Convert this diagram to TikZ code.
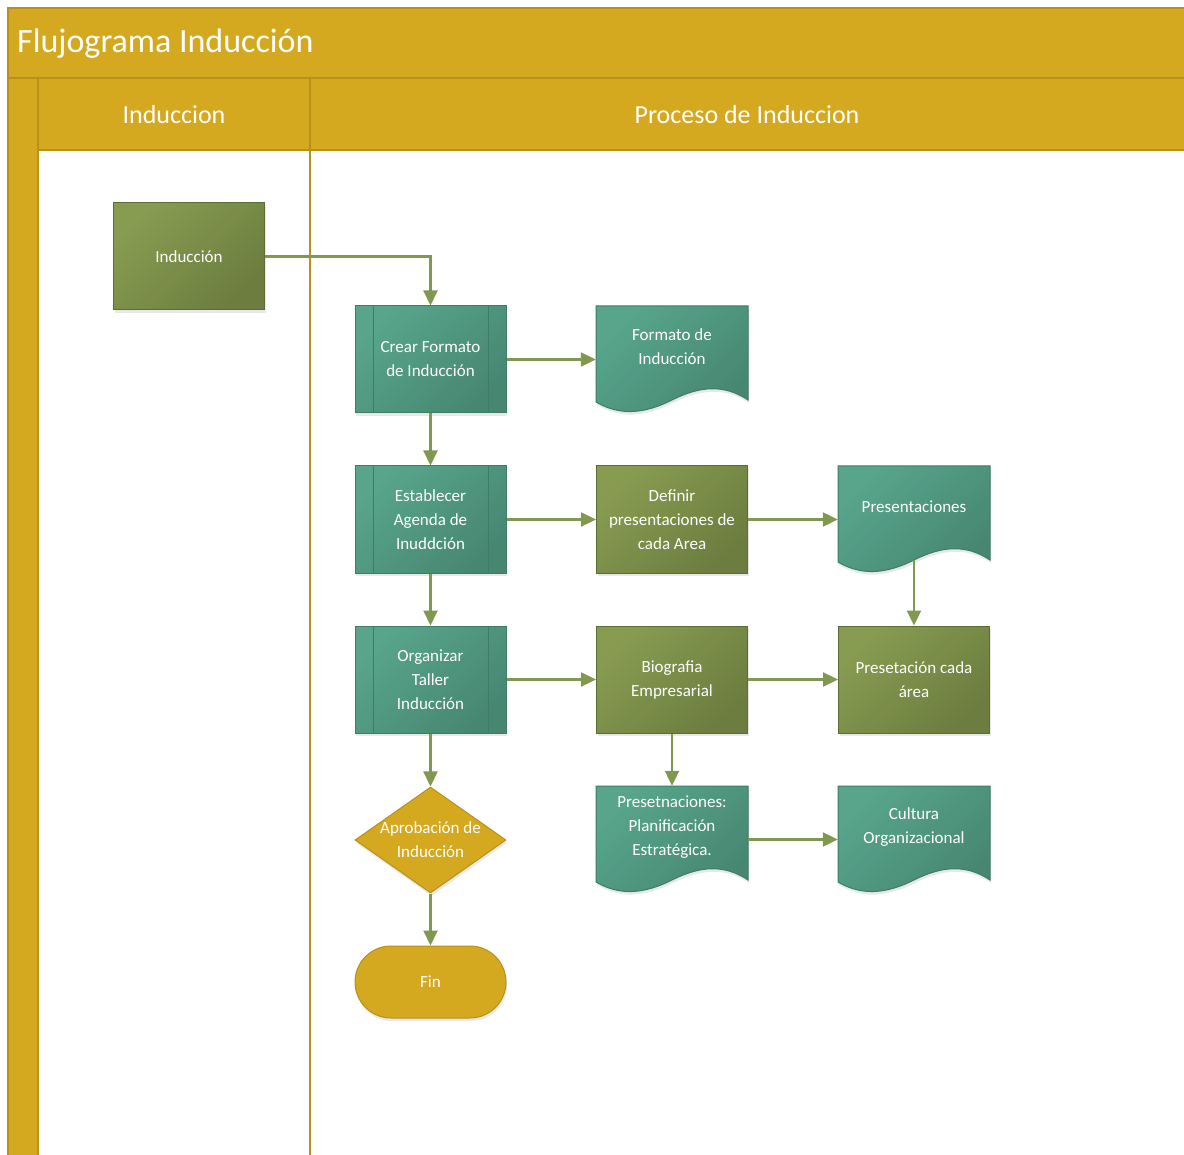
\documentclass[tikz,border=0pt]{standalone}
\usepackage{fontspec}
\setmainfont{Carlito}
\usetikzlibrary{arrows.meta,shapes.geometric,shadows}

\definecolor{gold}{HTML}{D4A91F}
\definecolor{goldline}{HTML}{B8911C}
\definecolor{tealA}{HTML}{58A58C}
\definecolor{tealB}{HTML}{478772}
\definecolor{tealline}{HTML}{3F7C68}
\definecolor{oliveA}{HTML}{879C51}
\definecolor{oliveB}{HTML}{6C7D3F}
\definecolor{oliveline}{HTML}{5D6C35}
\definecolor{flowc}{HTML}{809850}

\tikzset{
  softshadow/.style={drop shadow={opacity=0.18, shadow xshift=1pt, shadow yshift=-3pt}},
  nodetext/.style={text=white, align=center, inner sep=0pt,
    font=\fontsize{17}{24}\selectfont},
  box/.style={nodetext, minimum width=151pt, minimum height=107pt, line width=1pt, softshadow},
  procbox/.style={box, draw=tealline, top color=tealA, bottom color=tealB, shading angle=45,
    path picture={\draw[tealline, line width=1pt]
      ([xshift=18pt]path picture bounding box.north west) -- ([xshift=18pt]path picture bounding box.south west)
      ([xshift=-18pt]path picture bounding box.north east) -- ([xshift=-18pt]path picture bounding box.south east);}},
  taskbox/.style={box, draw=oliveline, top color=oliveA, bottom color=oliveB, shading angle=45},
  docshape/.style={draw=tealline, line width=1pt, top color=tealA, bottom color=tealB, shading angle=45, softshadow},
  docframe/.style={rectangle, minimum width=152pt, minimum height=107pt, inner sep=0pt},
  decision/.style={diamond, minimum width=151pt, minimum height=106pt, inner sep=0pt,
    fill=gold, draw=goldline, line width=1pt, softshadow},
  terminal/.style={nodetext, rectangle, rounded corners=36pt, minimum width=151pt, minimum height=72pt,
    fill=gold, draw=goldline, line width=1pt, softshadow},
  flow/.style={flowc, line width=2.2pt, -{Triangle[width=14pt,length=15pt]}},
  lanetitle/.style={text=white, inner sep=0pt, font=\fontsize{26}{30}\selectfont},
}

% document symbol: wavy-bottom outline, invisible frame node, text in the upper part
\newcommand\docnode[4]{%
  \begin{scope}[shift={(#2-76,#3-53.5)}]
    \shade[docshape] (0,0) -- (152,0) -- (152,94)
      .. controls (128,78) and (104,80) .. (76,94)
      .. controls (48,108) and (24,110) .. (0,96) -- cycle;
  \end{scope}
  \node[docframe] (#1) at (#2,#3) {};
  \node[nodetext] (#1-t) at (#2,#3-12.5) {#4};%
}

\begin{document}
\begin{tikzpicture}[x=1pt,y=-1pt]
\useasboundingbox (0,0) rectangle (1184,1155);
\fill[white] (0,0) rectangle (1184,1155);

% pool, header band and lanes
\fill[gold] (8,8) rectangle (1195,78);
\fill[gold] (8,78) rectangle (38,1165);
\fill[gold] (38,78) rectangle (1195,150);
\draw[goldline, line width=1.2pt] (8,1165) -- (8,8) -- (1195,8);
\draw[goldline, line width=1.5pt] (8,78) -- (1195,78);
\draw[goldline, line width=1.5pt] (38,150) -- (1195,150);
\draw[goldline, line width=2.5pt] (38,78) -- (38,1165);
\draw[goldline, line width=2pt] (310,78) -- (310,1165);

\node[anchor=west, text=white, inner sep=0pt, font=\fontsize{34}{40}\selectfont] (title) at (17,44) {Flujograma Inducción};
\node[lanetitle] (lane1) at (174,115) {Induccion};
\node[lanetitle] (lane2) at (747,115) {Proceso de Induccion};

% shapes
\node[taskbox] (ind) at (189,256.5) {Inducción};
\node[procbox] (crear) at (430.5,359.5) {Crear Formato\\de Inducción};
\node[procbox] (est) at (430.5,519.5) {Establecer\\Agenda de\\Inuddción};
\node[procbox] (org) at (430.5,679.5) {Organizar\\Taller\\Inducción};
\node[decision, label={[nodetext]center:Aprobación de\\Inducción}] (apr) at (430.5,840) {};
\node[terminal] (fin) at (430.5,982) {Fin};

\docnode{fmt}{672}{359.5}{Formato de\\Inducción}
\node[taskbox] (defn) at (672,519.5) {Definir\\presentaciones de\\cada Area};
\node[taskbox] (bio) at (672,679.5) {Biografia\\Empresarial};
\docnode{plan}{672}{839.5}{Presetnaciones:\\Planificación\\Estratégica.}

\docnode{pres}{914}{519.5}{Presentaciones}
\node[taskbox] (pcada) at (914,679.5) {Presetación cada\\área};
\docnode{cult}{914}{839.5}{Cultura\\Organizacional}

% connectors
\draw[flow] (ind.east) -| (crear.north);
\draw[flow] (crear) -- (fmt);
\draw[flow] (crear) -- (est);
\draw[flow] (est) -- (defn);
\draw[flow] (defn) -- (pres);
\draw[flow] ([yshift=13pt]pres.south) -- (pcada.north);
\draw[flow] (est) -- (org);
\draw[flow] (org) -- (bio);
\draw[flow] (bio) -- (pcada);
\draw[flow] (bio) -- (plan);
\draw[flow] (org) -- (apr);
\draw[flow] (plan) -- (cult);
\draw[flow] (apr) -- (fin);
\end{tikzpicture}
\end{document}
